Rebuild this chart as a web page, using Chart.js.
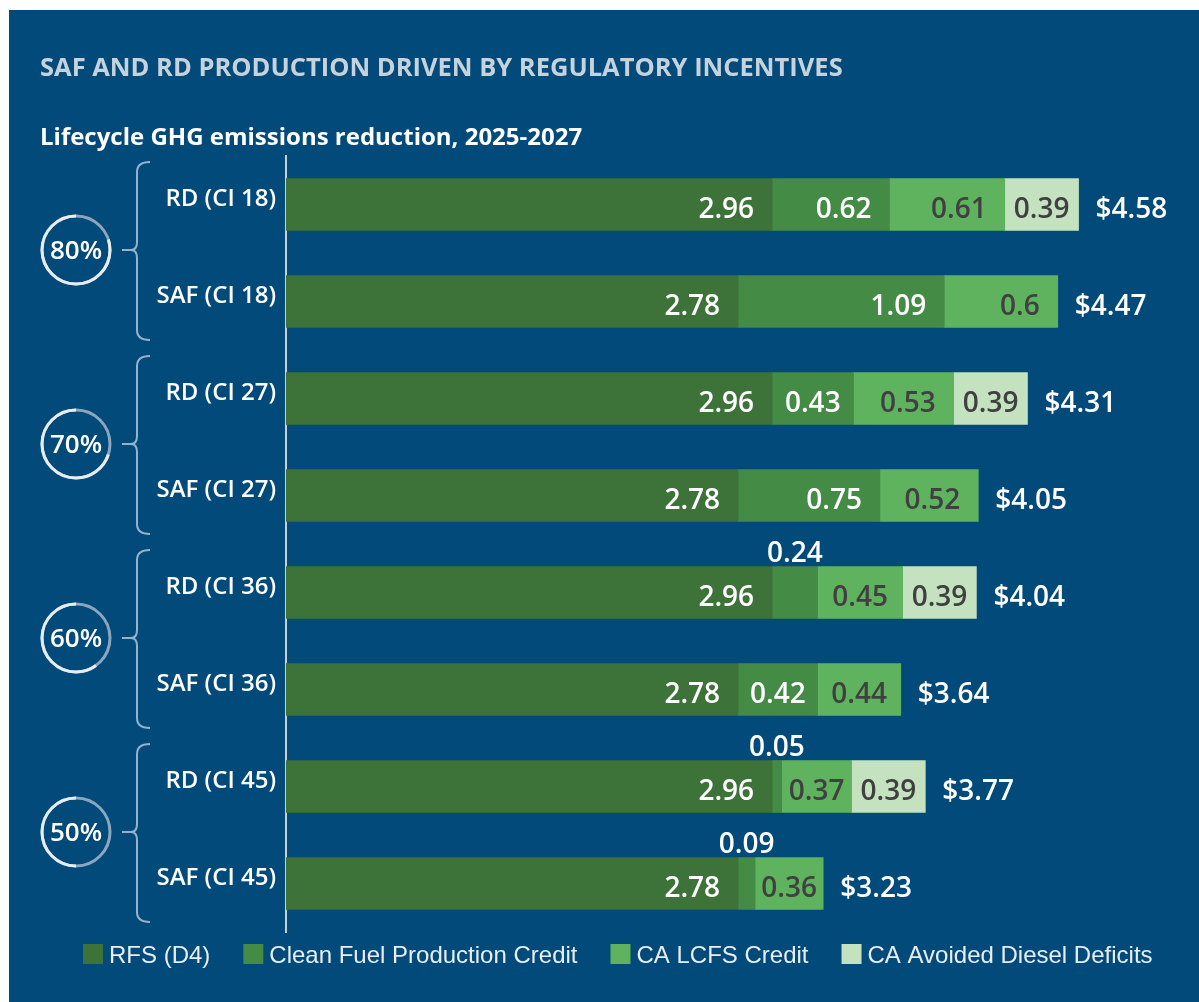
<!DOCTYPE html>
<html>
<head>
<meta charset="utf-8">
<script src="https://cdn.jsdelivr.net/npm/chart.js@4.4.1/dist/chart.umd.min.js"></script>
<style>
html, body { margin: 0; padding: 0; background: #ffffff; }
#wrap { width: 1199px; height: 1002px; position: relative; }
</style>
</head>
<body>
<div id="wrap"><canvas id="grafico"></canvas></div>
<script>
// categories on the y axis
const categories = ["RD (CI 18)", "SAF (CI 18)", "RD (CI 27)", "SAF (CI 27)", "RD (CI 36)", "SAF (CI 36)", "RD (CI 45)", "SAF (CI 45)"]
// series values ($/gal)
const rfsD4 = [2.96, 2.78, 2.96, 2.78, 2.96, 2.78, 2.96, 2.78]
const cleanFuelCredit = [0.62, 1.09, 0.43, 0.75, 0.24, 0.42, 0.05, 0.09]
const lcfsCredit = [0.61, 0.6, 0.53, 0.52, 0.45, 0.44, 0.37, 0.36]
const avoidedDeficits = [0.39, null, 0.39, null, 0.39, null, 0.39, null]
const totals = [4.58, 4.47, 4.31, 4.05, 4.04, 3.64, 3.77, 3.23]
// ghg reduction per pair of bars
const reductions = [80, 70, 60, 50]
const seriesNames = ["RFS (D4)", "Clean Fuel Production Credit", "CA LCFS Credit", "CA Avoided Diesel Deficits"]
const seriesColors = ["#3d7239", "#448b45", "#5fb35f", "#c4e2c0"]
const valueColors = ["#ffffff", "#ffffff", "#404040", "#404040"]

const BLUE = "#024a7a"
const TITLE = "SAF AND RD PRODUCTION DRIVEN BY REGULATORY INCENTIVES"
const SUBTITLE = "Lifecycle GHG emissions reduction, 2025-2027"
const VALUE_FONT = "600 28px 'Open Sans'"

const panel = { // background panel + titles
    id: "panel",
    beforeDraw(chart) {
        let ctx = chart.ctx
        ctx.save()
        ctx.fillStyle = "#ffffff"
        ctx.fillRect(0, 0, chart.width, chart.height)
        ctx.fillStyle = BLUE
        ctx.fillRect(9, 10, chart.width - 9, chart.height - 10)
        ctx.textBaseline = "alphabetic"
        ctx.textAlign = "left"
        ctx.fillStyle = "#c6d2dc"
        ctx.font = "bold 25.5px 'Open Sans'"
        ctx.fillText(TITLE, 40, 76)
        ctx.fillStyle = "#ffffff"
        ctx.font = "bold 24px 'Open Sans'"
        ctx.fillText(SUBTITLE, 40, 145)
        ctx.restore()
    }
}

const valueLabels = { // numbers inside / above the segments and totals
    id: "valueLabels",
    afterDatasetsDraw(chart) {
        let ctx = chart.ctx
        ctx.save()
        ctx.font = VALUE_FONT
        ctx.textBaseline = "alphabetic"
        chart.data.datasets.forEach((ds, i) => {
            let meta = chart.getDatasetMeta(i)
            meta.data.forEach((bar, j) => {
                let v = ds.data[j]
                if (v == null) return
                let txt = String(v)
                let w = ctx.measureText(txt).width
                let seg = bar.x - bar.base
                if (w + 6 > seg) { // too narrow, put it above the bar
                    ctx.fillStyle = "#ffffff"
                    ctx.textAlign = "center"
                    ctx.fillText(txt, (bar.x + bar.base) / 2, bar.y - bar.height / 2 - 5)
                } else {
                    let pad = Math.min(18, (seg - w) / 2)
                    ctx.fillStyle = valueColors[i]
                    ctx.textAlign = "right"
                    ctx.fillText(txt, bar.x - pad, bar.y + 13.5)
                }
            })
        })
        // totals after the last segment
        let last = chart.getDatasetMeta(0).data.map((b, j) => {
            let end = b.x
            for (let k = 1; k < chart.data.datasets.length; k++) {
                let d = chart.data.datasets[k].data[j]
                if (d != null) end = chart.getDatasetMeta(k).data[j].x
            }
            return end
        })
        ctx.fillStyle = "#ffffff"
        ctx.textAlign = "left"
        totals.forEach((t, j) => {
            let b = chart.getDatasetMeta(0).data[j]
            ctx.fillText("$" + t.toFixed(2), last[j] + 17, b.y + 13.5)
        })
        ctx.restore()
    }
}

const groups = { // braces, reduction circles and legend
    id: "groups",
    afterDraw(chart) {
        let ctx = chart.ctx
        let y = chart.scales.y
        ctx.save()
        reductions.forEach((pct, g) => {
            let yA = y.getPixelForValue(2 * g)
            let yB = y.getPixelForValue(2 * g + 1)
            let band = yB - yA
            let top = yA - band / 2 + 6
            let bottom = yB + band / 2 - 10
            let mid = (yA + yB) / 2 - 3
            let bx = 137
            ctx.strokeStyle = "rgba(175,198,218,0.85)"
            ctx.lineWidth = 2
            ctx.beginPath()
            ctx.moveTo(bx + 13, top)
            ctx.quadraticCurveTo(bx, top, bx, top + 10)
            ctx.lineTo(bx, mid - 8)
            ctx.quadraticCurveTo(bx, mid, bx - 6, mid)
            ctx.lineTo(bx - 15, mid)
            ctx.moveTo(bx - 6, mid)
            ctx.quadraticCurveTo(bx, mid, bx, mid + 8)
            ctx.lineTo(bx, bottom - 10)
            ctx.quadraticCurveTo(bx, bottom, bx + 13, bottom)
            ctx.stroke()
            // ring
            let cx = 76, r = 34
            ctx.lineWidth = 3
            ctx.strokeStyle = "#8ba6be"
            ctx.beginPath()
            ctx.arc(cx, mid, r, 0, Math.PI * 2)
            ctx.stroke()
            ctx.strokeStyle = "#e8edf2"
            ctx.beginPath()
            ctx.arc(cx, mid, r, -Math.PI / 2, -Math.PI / 2 - pct / 100 * Math.PI * 2, true)
            ctx.stroke()
            ctx.fillStyle = "#ffffff"
            ctx.font = "600 26px 'Open Sans'"
            ctx.textAlign = "center"
            ctx.textBaseline = "alphabetic"
            ctx.fillText(pct + "%", cx, mid + 9)
        })
        // legend
        let x = 83
        ctx.font = "24px 'Liberation Sans'"
        ctx.textAlign = "left"
        chart.data.datasets.forEach(ds => {
            ctx.fillStyle = ds.backgroundColor
            ctx.fillRect(x, 944, 20, 20)
            ctx.fillStyle = "#e8eef3"
            ctx.fillText(ds.label, x + 26, 963)
            x += 26 + ctx.measureText(ds.label).width + 33
        })
        ctx.restore()
    }
}

let datasets = [rfsD4, cleanFuelCredit, lcfsCredit, avoidedDeficits].map((valores, i) => ({
    label: seriesNames[i],
    data: valores,
    backgroundColor: seriesColors[i],
    borderWidth: 0,
    barThickness: 52
}))

let chart = new Chart(document.getElementById("grafico"), {
    type: "bar",
    data: { labels: categories, datasets: datasets },
    options: {
        indexAxis: "y",
        responsive: true,
        maintainAspectRatio: false,
        animation: false,
        devicePixelRatio: 1,
        layout: { padding: { top: 156, bottom: 70, right: 41, left: 0 } },
        plugins: {
            legend: { display: false },
            tooltip: { enabled: false },
            title: { display: false }
        },
        scales: {
            x: { stacked: true, min: 0.39, max: 5.0, display: false },
            y: {
                stacked: true,
                grid: { display: false, drawTicks: false },
                border: { display: true, color: "#c9cfd6", width: 2 },
                ticks: {
                    color: "#ffffff",
                    font: { family: "Open Sans", weight: "600", size: 24 },
                    padding: 10,
                    labelOffset: -5
                },
                afterFit(scale) { scale.width = 286 }
            }
        }
    },
    plugins: [panel, valueLabels, groups]
})
</script>
</body>
</html>
